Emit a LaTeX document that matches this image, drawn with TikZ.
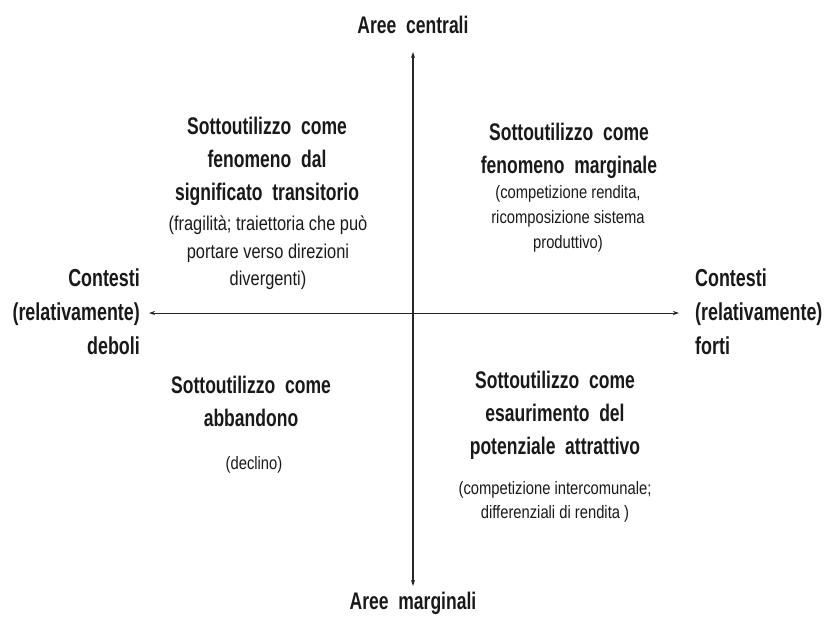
\documentclass[tikz,border=0pt]{standalone}
\usepackage{fontspec}
\setmainfont{Liberation Sans}
\newfontfamily\hdfont{Liberation Sans}[FakeStretch=0.73]
\newfontfamily\smfont{Liberation Sans}[FakeStretch=0.82]
\usetikzlibrary{arrows.meta}
\begin{document}
\begin{tikzpicture}[x=1pt,y=-1pt,
  hd/.style={font=\hdfont\bfseries\fontsize{24}{33}\selectfont, text=black!90, inner sep=0pt, align=center},
  sm/.style={font=\smfont\fontsize{18}{26}\selectfont, text=black!90, inner sep=0pt, align=center},
  axis/.style={black!85, -{Stealth[length=6pt,width=4pt]}}]
\useasboundingbox (0,0) rectangle (824,621);
\coordinate (o) at (413,313);
\coordinate (top) at (413,52);
\coordinate (bot) at (413,586);
\coordinate (lft) at (149,313);
\coordinate (rgt) at (679,313);
\draw[axis, line width=1.3pt] (o) -- (top);
\draw[axis, line width=1.3pt] (o) -- (bot);
\draw[axis, line width=0.8pt] (o) -- (lft);
\draw[axis, line width=0.8pt] (o) -- (rgt);

\node[hd] (centrali) at (413,25) {Aree\ \ centrali};
\node[hd] (marginali) at (413,603) {Aree\ \ marginali};

\node[hd, align=right, anchor=east, font=\hdfont\bfseries\fontsize{24.5}{34}\selectfont] (deboli) at (140,312) {Contesti\\(relativamente)\\deboli};
\node[hd, align=left, anchor=west, font=\hdfont\bfseries\fontsize{24.5}{34}\selectfont] (forti) at (695,312) {Contesti\\(relativamente)\\forti};

\node[hd] (tl) at (267,161) {Sottoutilizzo\ \ come\\fenomeno\ \ dal\\significato\ \ transitorio};
\node[sm, font=\smfont\fontsize{20}{27.5}\selectfont] (tls) at (268,253) {(fragilità; traiettoria che può\\portare verso direzioni\\divergenti)};

\node[hd] (tr) at (569,151) {Sottoutilizzo\ \ come\\fenomeno\ \ marginale};
\node[sm, font=\smfont\fontsize{18}{25}\selectfont] (trs) at (568,219) {(competizione rendita,\\ricomposizione sistema\\produttivo)};

\node[hd] (bl) at (251,401) {Sottoutilizzo\ \ come\\abbandono};
\node[sm] (bls) at (254,465) {(declino)};

\node[hd] (br) at (555,415) {Sottoutilizzo\ \ come\\esaurimento\ \ del\\potenziale\ \ attrattivo};
\node[sm, font=\smfont\fontsize{18}{24}\selectfont] (brs) at (555,502) {(competizione intercomunale;\\differenziali di rendita )};
\end{tikzpicture}
\end{document}
